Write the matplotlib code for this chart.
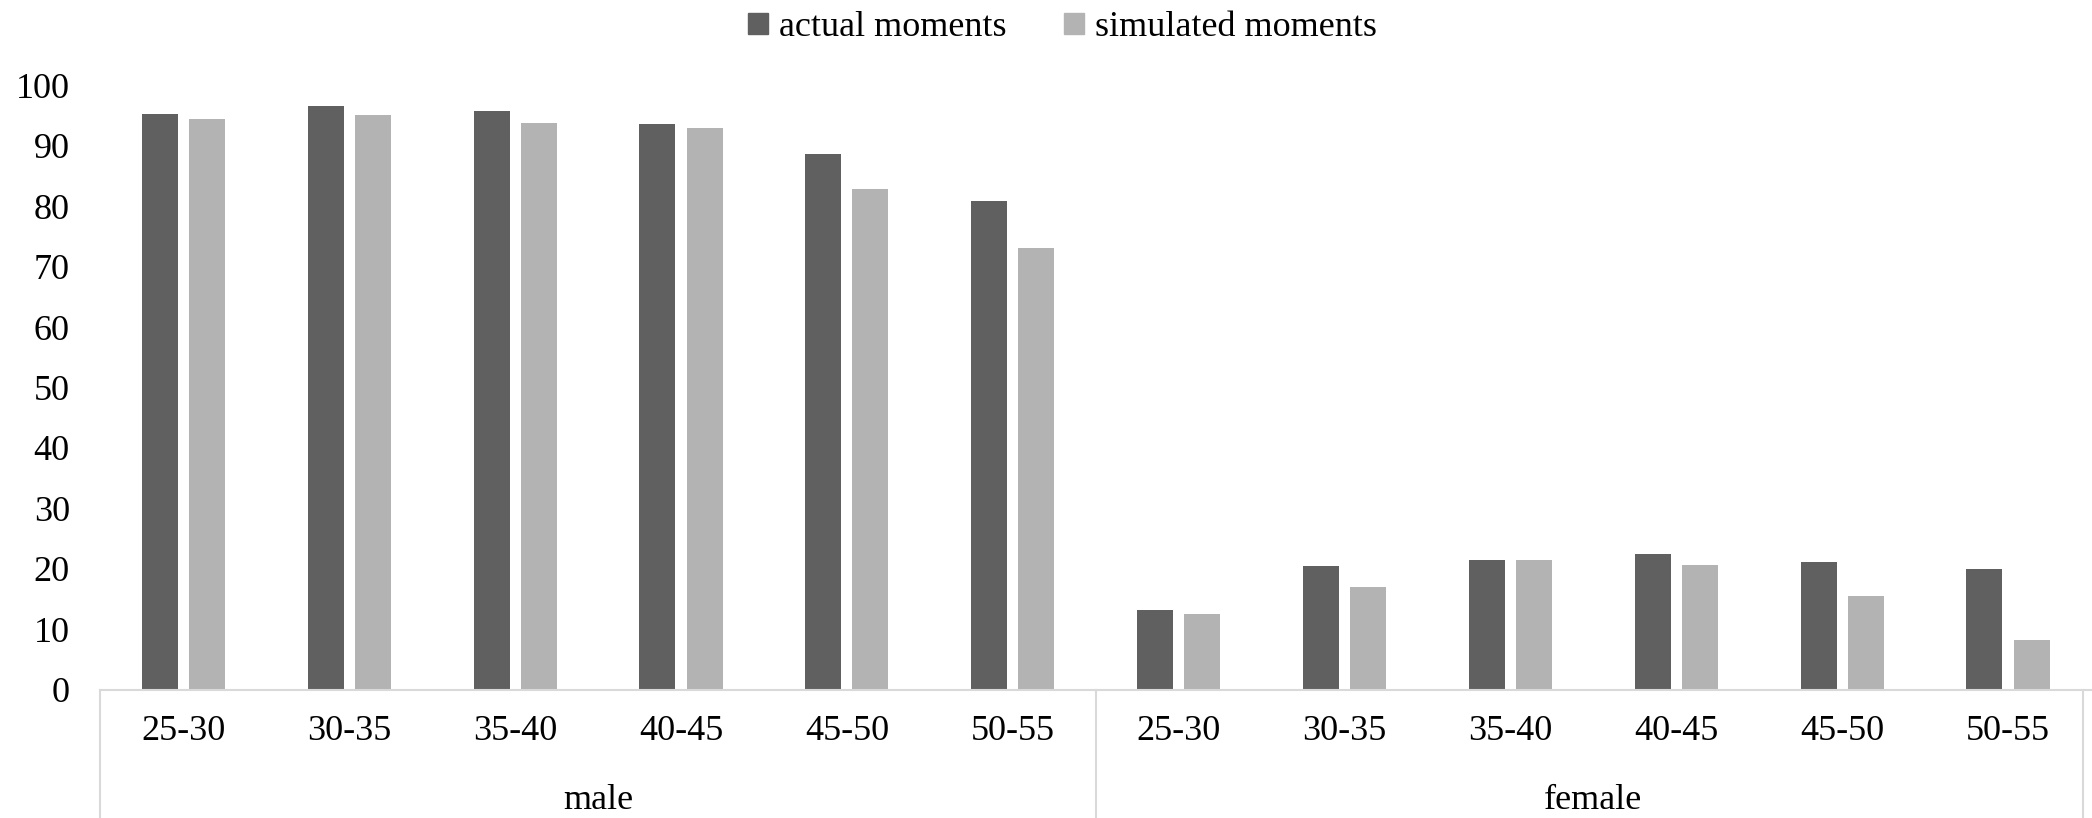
import matplotlib.pyplot as plt
import matplotlib.transforms as mtransforms
from matplotlib.patches import Patch
import numpy as np

plt.rcParams['font.family'] = 'serif'
plt.rcParams['font.serif'] = ['Liberation Serif', 'DejaVu Serif']

age_groups = ["25-30", "30-35", "35-40", "40-45", "45-50", "50-55"]
sexes = ["male", "female"]
actual_male = [95.2, 96.6, 95.7, 93.6, 88.6, 80.8]
simulated_male = [94.4, 95.1, 93.7, 92.9, 82.8, 73.1]
actual_female = [13.2, 20.5, 21.5, 22.4, 21.1, 19.9]
simulated_female = [12.5, 16.9, 21.4, 20.6, 15.5, 8.2]

actual = actual_male + actual_female
simulated = simulated_male + simulated_female
labels = age_groups * 2

dark = "#606060"
light = "#b3b3b3"

fig = plt.figure(figsize=(20.92, 8.18), dpi=100)
ax = fig.add_axes([0.048, 0.157, 0.9515, 0.7386])

x = np.arange(len(labels))
w = 0.217
off = 0.142
ax.bar(x - off, actual, w, color=dark, label="actual moments")
ax.bar(x + off, simulated, w, color=light, label="simulated moments")

ax.set_xlim(-0.5, len(labels) - 0.5)
ax.set_ylim(0, 100)
ax.set_yticks(np.arange(0, 101, 10))
ax.tick_params(axis='y', length=0, pad=22, labelsize=26)
ax.set_xticks(x)
ax.set_xticklabels(labels)
ax.tick_params(axis='x', length=0, pad=18, labelsize=26)

for s in ["top", "right", "left"]:
    ax.spines[s].set_visible(False)
ax.spines["bottom"].set_color("#d9d9d9")
ax.spines["bottom"].set_linewidth(1.5)

# group separators below the axis
trans = mtransforms.blended_transform_factory(ax.transData, fig.transFigure)
for xs in [-0.5, 5.5, 11.45]:
    ax.plot([xs, xs], [0.157, 0.0], transform=trans, color="#d9d9d9",
            lw=1.5, clip_on=False)

# group labels
for i, sx in enumerate(sexes):
    ax.text(i * 6 + 2.5, 0.022, sx, transform=trans, ha="center",
            va="center", fontsize=26)

handles = [Patch(color=dark), Patch(color=light)]
fig.legend(handles, ["actual moments", "simulated moments"], loc="center",
           bbox_to_anchor=(0.508, 0.966), ncol=2, frameon=False, fontsize=26,
           handlelength=0.55, handleheight=0.55, handletextpad=0.3,
           columnspacing=1.6)

fig.savefig("out.png", dpi=100)
